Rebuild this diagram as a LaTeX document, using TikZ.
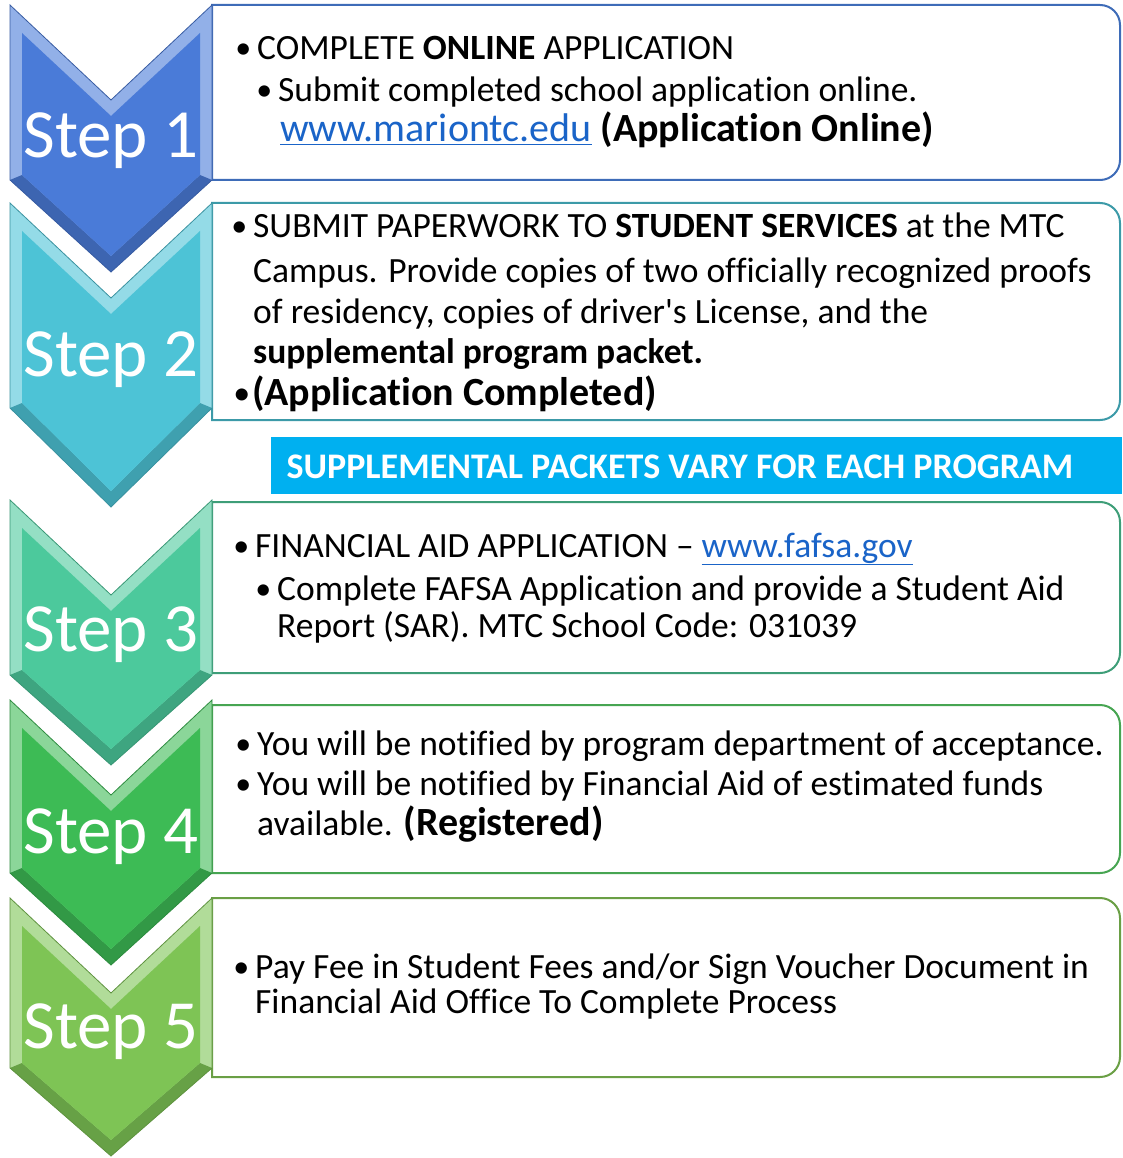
\documentclass[tikz,border=0pt]{standalone}
\usepackage{fontspec}
\setmainfont{Carlito}[Ligatures={TeX,NoCommon}]
\definecolor{cA}{HTML}{4A7BD8}
\definecolor{cB}{HTML}{4DC3D6}
\definecolor{cC}{HTML}{4CC99C}
\definecolor{cD}{HTML}{3DBB55}
\definecolor{cE}{HTML}{7EC455}
\definecolor{bA}{HTML}{3E6CB8}
\definecolor{bB}{HTML}{3C9AA8}
\definecolor{bC}{HTML}{3E9E78}
\definecolor{bD}{HTML}{47A552}
\definecolor{bE}{HTML}{6A9F45}
\definecolor{banner}{HTML}{00B0F0}
\definecolor{linkc}{HTML}{1A64C8}
\newcommand\ft{\fontsize{35.5}{40}\selectfont}
\newcommand\bigb{\fontsize{40}{44}\selectfont\bfseries}
\newcommand\bul{\llap{\raisebox{1pt}{\fontsize{32}{32}\selectfont•}\hspace{6pt}}}
\newcommand\lnk[1]{{\color{linkc}\underline{#1}}}
\newcommand\chevron[7]{%
  \fill[#4!60!white] (10,#1) -- (111,#1+95) -- (212,#1) -- (212,#2) -- (111,#3) -- (10,#2) -- cycle;
  \fill[#4!82!black] (10,#2) -- (111,#3) -- (212,#2) -- (200,#2-5) -- (111,#3-16) -- (22,#2-5) -- cycle;
  \fill[#4] (22,#1+28) -- (111,#1+111) -- (200,#1+28) -- (200,#2-5) -- (111,#3-16) -- (22,#2-5) -- cycle;
  \draw[#4!75!black, line width=0.8] (10,#1) -- (111,#1+95) -- (212,#1) -- (212,#2) -- (111,#3) -- (10,#2) -- cycle;
  \node[steplbl] (#5) at (111,#7) {#6};
}
\newcommand\infobox[3]{%
  \draw[boxline, draw=#3] (212,#1) -- (1100,#1) arc[start angle=-90,end angle=0,radius=20]
    -- (1120,#2-20) arc[start angle=0,end angle=90,radius=20] -- (212,#2) -- cycle;
}
\tikzset{
  txt/.style={anchor=base west, inner sep=0pt, font=\ft, text=black},
  steplbl/.style={anchor=base, inner sep=0pt, font=\fontsize{69}{72}\selectfont, text=white},
  boxline/.style={fill=white, line width=2pt},
}
\begin{document}
\begin{tikzpicture}[x=1pt,y=-1pt]
\useasboundingbox (0,0) rectangle (1122,1158);
\fill[white] (0,0) rectangle (1122,1158);
% boxes
\infobox{5}{180}{bA}
\infobox{203}{420}{bB}
\infobox{502}{673}{bC}
\infobox{705}{873}{bD}
\infobox{898}{1077}{bE}
% chevrons
\chevron{5}{180}{272}{cA}{s1}{Step 1}{158}
\chevron{203}{408}{507}{cB}{s2}{Step 2}{376}
\chevron{500}{675}{765}{cC}{s3}{Step 3}{651}
\chevron{700}{873}{965}{cD}{s4}{Step 4}{853}
\chevron{898}{1068}{1156}{cE}{s5}{Step 5}{1048}
% banner
\fill[banner] (271,437) rectangle (1122,494);
\node[anchor=base, inner sep=0pt, font=\fontsize{36}{40}\selectfont\bfseries, text=white] (ban) at (680,478) {SUPPLEMENTAL PACKETS VARY FOR EACH PROGRAM};
% box 1
\node[txt] (t11) at (257,60) {\bul COMPLETE \textbf{ONLINE} APPLICATION};
\node[txt] (t12) at (278,102) {\bul Submit completed school application online.};
\node[txt] (t13) at (280,142) {\fontsize{40}{44}\selectfont\lnk{www.mariontc.edu} {\bfseries (Application Online)}};
% box 2
\node[txt] (t21) at (253,237) {\bul SUBMIT PAPERWORK TO \textbf{STUDENT SERVICES} at the MTC};
\node[txt] (t22) at (253,282) {Campus. Provide copies of two officially recognized proofs};
\node[txt] (t23) at (253,323) {of residency, copies of driver\textquotesingle s License, and the};
\node[txt] (t24) at (253,363) {\textbf{supplemental program packet.}};
\node[txt] (t25) at (252,405) {\llap{\raisebox{1pt}{\fontsize{34}{34}\selectfont•}\hspace{2pt}}{\bigb (Application Completed)}};
% box 3
\node[txt] (t31) at (255,557) {\bul FINANCIAL AID APPLICATION -- \lnk{www.fafsa.gov}};
\node[txt] (t32) at (277,600) {\bul Complete FAFSA Application and provide a Student Aid};
\node[txt] (t33) at (277,637) {Report (SAR). MTC School Code: 031039};
% box 4
\node[txt] (t41) at (257,755) {\bul You will be notified by program department of acceptance.};
\node[txt] (t42) at (257,795) {\bul You will be notified by Financial Aid of estimated funds};
\node[txt] (t43) at (257,835) {available. {\bigb (Registered)}};
% box 5
\node[txt] (t51) at (255,978) {\bul Pay Fee in Student Fees and/or Sign Voucher Document in};
\node[txt] (t52) at (255,1013) {Financial Aid Office To Complete Process};
\end{tikzpicture}
\end{document}
